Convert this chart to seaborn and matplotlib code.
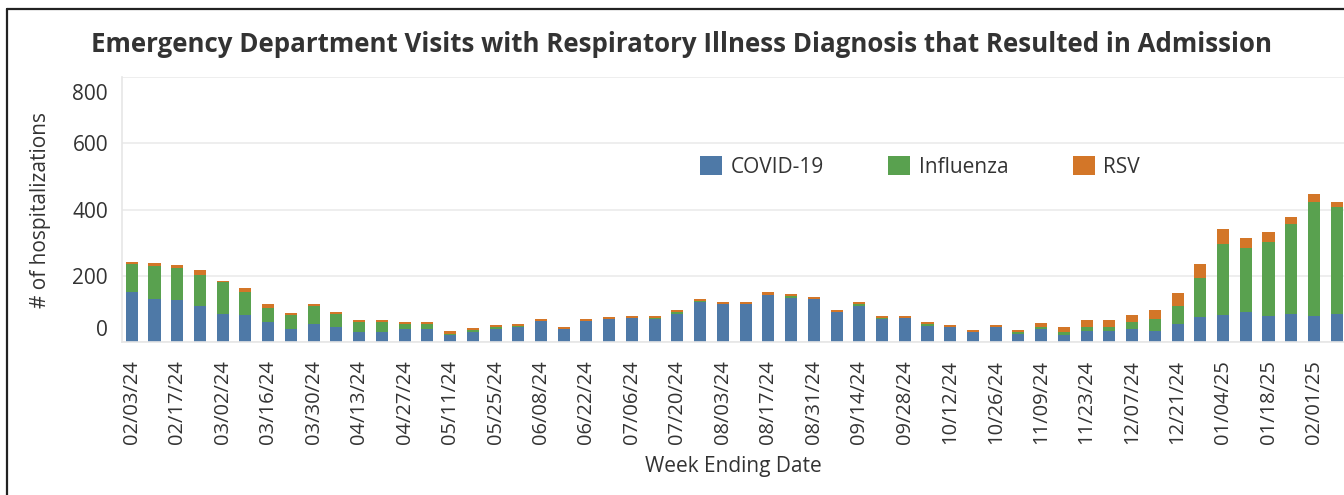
import numpy as np
import pandas as pd
import matplotlib
matplotlib.use("Agg")
import matplotlib.pyplot as plt
from matplotlib.patches import Patch
from matplotlib.lines import Line2D
from matplotlib.transforms import ScaledTranslation
import seaborn as sns

# weekly data, week ending dates
weeks = pd.date_range("2024-02-03", periods=54, freq="7D").strftime("%m/%d/%y").tolist()

covid = [150, 131, 128, 110, 86, 83, 59, 38, 53, 44, 29, 29, 38, 38, 20,
         29, 38, 44, 62, 38, 62, 68, 71, 68, 86, 120, 116, 116, 143, 134, 131, 92, 110, 68,
         71, 47, 44, 29, 44, 23, 38, 20, 32, 32, 38, 32, 53, 74, 83, 92, 77, 86, 77, 86]
flu = [85, 99, 94, 93, 94, 69, 45, 45, 57, 42, 30, 30, 15, 15, 4,
       6, 6, 3, 1, 0, 0, 0, 0, 5, 6, 3, 0, 0, 0, 4, 0, 0, 6, 3,
       0, 6, 0, 0, 0, 6, 6, 9, 12, 12, 21, 36, 57, 118, 213, 192, 225, 270, 345, 321]
rsv = [7, 7, 11, 15, 5, 12, 12, 6, 6, 6, 6, 6, 6, 6, 8,
       6, 6, 6, 6, 6, 6, 6, 6, 7, 6, 8, 6, 6, 8, 8, 6, 6, 6, 6,
       6, 6, 6, 6, 6, 6, 12, 15, 21, 21, 24, 30, 39, 44, 45, 30, 30, 21, 24, 15]

series = ["COVID-19", "Influenza", "RSV"]
colors = ["#4E79A7", "#59A14F", "#D37628"]
yticks = [0, 200, 400, 600, 800]

df = pd.DataFrame({"week": weeks, "COVID-19": covid, "Influenza": flu, "RSV": rsv})
df["flu_top"] = df["COVID-19"] + df["Influenza"]
df["rsv_top"] = df["flu_top"] + df["RSV"]

sns.set_style("white")
plt.rcParams["font.family"] = ["Open Sans", "DejaVu Sans"]
txt = "#333333"

fig = plt.figure(figsize=(13.44, 4.95), dpi=100)
ax = fig.add_axes([122 / 1344, 1 - 342 / 495, 1 - 122 / 1344, (342 - 77) / 495])

# stacked bars drawn as overlays of cumulative totals
for col, c in zip(["rsv_top", "flu_top", "COVID-19"], colors[::-1]):
    sns.barplot(data=df, x="week", y=col, color=c, width=0.53, ax=ax,
                saturation=1, linewidth=0, edgecolor="none")

ax.set_xlim(-0.43, len(weeks) - 1 + 0.32)
ax.set_ylim(0, 800)
ax.set_yticks(yticks)
ax.set_yticklabels([str(v) for v in yticks], fontsize=15, color=txt)
ax.yaxis.grid(True, color="#EBEBEB", lw=1.2)
ax.set_axisbelow(True)

ax.set_xticks(range(0, len(weeks), 2))
ax.set_xticklabels(weeks[::2], rotation=90, fontsize=14.5, color=txt)
ax.xaxis.set_minor_locator(matplotlib.ticker.FixedLocator(range(1, len(weeks), 2)))
ax.tick_params(axis="x", which="major", length=7, color="#E0E0E0", pad=6)
ax.tick_params(axis="x", which="minor", length=4, color="#E0E0E0")
ax.tick_params(axis="y", length=0, pad=10)

# tableau-like shifted value labels
shifts = [14, 0, 0, 0, -15]
for lab, dy in zip(ax.get_yticklabels(), shifts):
    lab.set_transform(lab.get_transform() + ScaledTranslation(0, dy / 100, fig.dpi_scale_trans))

for s in ["top", "right"]:
    ax.spines[s].set_visible(False)
for s in ["left", "bottom"]:
    ax.spines[s].set_color("#E6E6E6")
    ax.spines[s].set_linewidth(1.2)

ax.set_xlabel("Week Ending Date", fontsize=15, color=txt)
ax.xaxis.set_label_coords(0.5, -(456 - 342) / 265)
ax.set_ylabel("# of hospitalizations", fontsize=15, color=txt)
ax.yaxis.set_label_coords(-(122 - 51) / 1222, 0.5)

handles = [Patch(facecolor=c, edgecolor="none") for c in colors]
ax.legend(handles, series, loc="center", bbox_to_anchor=((920 - 122) / 1222, (342 - 167) / 265),
          ncol=3, frameon=False, fontsize=15, handlelength=1.05, handleheight=1.05,
          handletextpad=0.4, columnspacing=3.1, labelcolor=txt)

fig.text(0.507, 1 - 45 / 495, "Emergency Department Visits with Respiratory Illness Diagnosis that Resulted in Admission",
         ha="center", va="center", fontsize=18.6, fontweight="bold", color=txt)

# frame of the dashboard sheet
fig.add_artist(Line2D([7 / 1344, 7 / 1344], [0, 1 - 9 / 495], color="#222222", lw=1.6))
fig.add_artist(Line2D([7 / 1344, 1], [1 - 9 / 495, 1 - 9 / 495], color="#222222", lw=1.6))

fig.savefig("out.png", dpi=100)
